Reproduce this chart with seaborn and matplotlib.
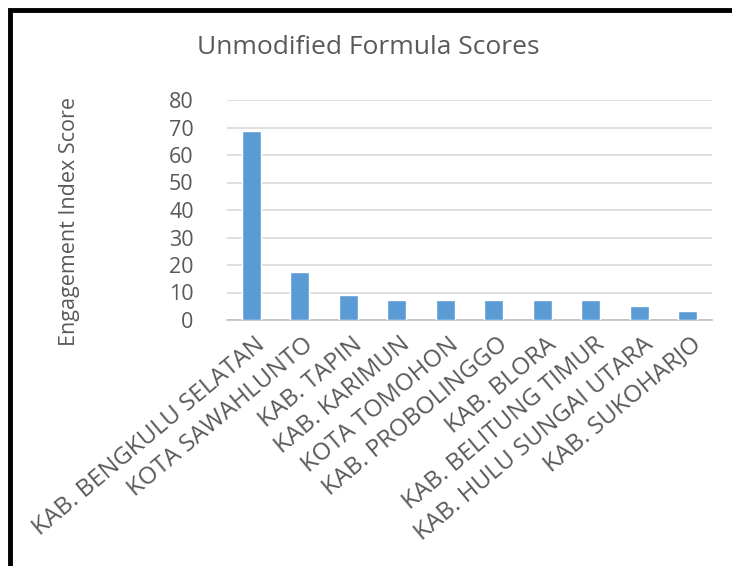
import matplotlib
matplotlib.use("Agg")
import matplotlib.pyplot as plt
import seaborn as sns
import pandas as pd
from matplotlib.patches import Rectangle

# === Data ===
regions = [
    "KAB. BENGKULU SELATAN",
    "KOTA SAWAHLUNTO",
    "KAB. TAPIN",
    "KAB. KARIMUN",
    "KOTA TOMOHON",
    "KAB. PROBOLINGGO",
    "KAB. BLORA",
    "KAB. BELITUNG TIMUR",
    "KAB. HULU SUNGAI UTARA",
    "KAB. SUKOHARJO",
]
scores = [68.9, 17.5, 9.0, 7.4, 7.4, 7.1, 7.1, 7.1, 5.1, 3.2]
y_ticks = [0, 10, 20, 30, 40, 50, 60, 70, 80]

df = pd.DataFrame({"region": regions, "score": scores})

sns.set_style("white")
plt.rcParams["font.family"] = ["Open Sans", "DejaVu Sans"]

text_col = "#595959"
grid_col = "#d9d9d9"

fig = plt.figure(figsize=(7.32, 5.66), dpi=100)
ax = fig.add_axes([227 / 732, 1 - 320 / 566, (712 - 227) / 732, 220 / 566])

sns.barplot(data=df, x="region", y="score", color="#5b9bd5", width=0.4,
            saturation=1, ax=ax, zorder=3)

ax.set_ylim(0, 80)
ax.set_xlim(-0.5, len(regions) - 0.5)
ax.set_yticks(y_ticks)
ax.yaxis.grid(True, color=grid_col, linewidth=1.2, zorder=0)
ax.tick_params(axis="y", length=0, pad=24, labelsize=15.5, labelcolor=text_col)

# category separators on the x axis, like the spreadsheet chart
ax.set_xticks(range(len(regions)))
ax.set_xticks([i - 0.5 for i in range(len(regions) + 1)], minor=True)
ax.tick_params(axis="x", which="major", length=0, pad=9)
ax.tick_params(axis="x", which="minor", length=6, color="#bfbfbf", width=1.2)
ax.set_xticklabels(regions, rotation=40, ha="right", va="top",
                   rotation_mode="anchor", fontsize=17.5, color=text_col)
shift = matplotlib.transforms.ScaledTranslation(3 / 100, 0, fig.dpi_scale_trans)
for lab in ax.get_xticklabels():
    lab.set_transform(lab.get_transform() + shift)

for side in ["top", "right", "left"]:
    ax.spines[side].set_visible(False)
ax.spines["bottom"].set_color("#bfbfbf")
ax.spines["bottom"].set_linewidth(1.2)

ax.set_xlabel("")
ax.set_ylabel("")
fig.text(70 / 732, 1 - 222 / 566, "Engagement Index Score", rotation=90,
         ha="center", va="center", fontsize=15.5, color=text_col)
fig.text(368 / 732, 1 - 48 / 566, "Unmodified Formula Scores",
         ha="center", va="center", fontsize=19, color=text_col)

# black frame around the chart (open to the right and bottom, as cropped)
fig.patches.append(Rectangle((10 / 732, -0.05), 1.2, 1 - 10 / 566 + 0.05,
                             transform=fig.transFigure, fill=False,
                             edgecolor="black", linewidth=3.5))

fig.savefig("out.png", dpi=100, facecolor="white")
